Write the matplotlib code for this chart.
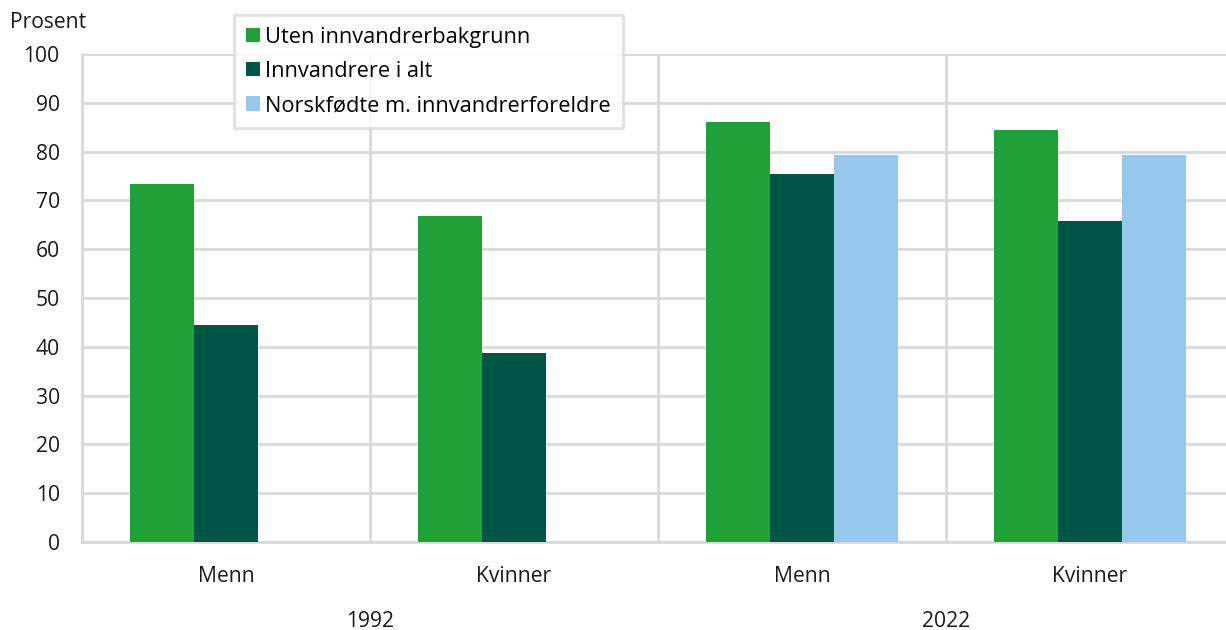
import numpy as np
import matplotlib.pyplot as plt

plt.rcParams['font.family'] = ['Open Sans', 'DejaVu Sans']

# Andel sysselsatte, prosent
kategorier = ['Menn', 'Kvinner', 'Menn', 'Kvinner']
aar = ['1992', '2022']
uten_bakgrunn = [73.4, 66.8, 86.1, 84.4]
innvandrere = [44.5, 38.7, 75.4, 65.8]
norskfodte = [np.nan, np.nan, 79.3, 79.3]

serier = [
    ('Uten innvandrerbakgrunn', uten_bakgrunn, '#21a038'),
    ('Innvandrere i alt', innvandrere, '#005546'),
    ('Norskfødte m. innvandrerforeldre', norskfodte, '#96c7ec'),
]

fs = 15.2

fig = plt.figure(figsize=(12.26, 6.3), dpi=100)
ax = fig.add_axes([82 / 1226, (630 - 542) / 630, (1226 - 82) / 1226, 488 / 630])

x = np.arange(len(kategorier)) + 0.5
b = 64 / 288
for i, (navn, verdier, farge) in enumerate(serier):
    ax.bar(x + (i - 1) * b, verdier, width=b, color=farge, label=navn, zorder=3)

ax.set_ylim(0, 100)
ax.set_xlim(0, 1144 / 288)
ax.set_yticks(range(0, 101, 10))
ax.set_xticks(x)
ax.set_xticklabels(kategorier)
ax.tick_params(axis='both', length=0, labelsize=fs, colors='#1a1a1a')
ax.tick_params(axis='x', pad=17)
ax.tick_params(axis='y', pad=16)

# rutenett: vannrett for hver tier, loddrett mellom kategoriene
ax.grid(axis='y', color='#d9d9d9', linewidth=2, zorder=0)
for v in range(1, 4):
    ax.axvline(v, color='#d9d9d9', linewidth=2, zorder=0)
for s in ['top', 'right']:
    ax.spines[s].set_visible(False)
for s in ['left', 'bottom']:
    ax.spines[s].set_color('#d9d9d9')
    ax.spines[s].set_linewidth(2)

# årstall under kategoriene
for j, a in enumerate(aar):
    ax.text(1 + 2 * j, -16.3, a, ha='center', va='center', fontsize=fs,
            color='#1a1a1a')

fig.text(10 / 1226, 1 - 22 / 630, 'Prosent', ha='left', va='center',
         fontsize=fs, color='#1a1a1a')

leg = ax.legend(loc='upper left', bbox_to_anchor=(234 / 1226, 1 - 15 / 630),
                bbox_transform=fig.transFigure, fontsize=15.7, frameon=True,
                fancybox=False, handlelength=0.62, handleheight=0.62,
                handletextpad=0.25, labelspacing=0.6, borderpad=0.55,
                borderaxespad=0)
leg.get_frame().set_edgecolor('#d9d9d9')
leg.get_frame().set_linewidth(2)

fig.savefig('out.png', dpi=100)
